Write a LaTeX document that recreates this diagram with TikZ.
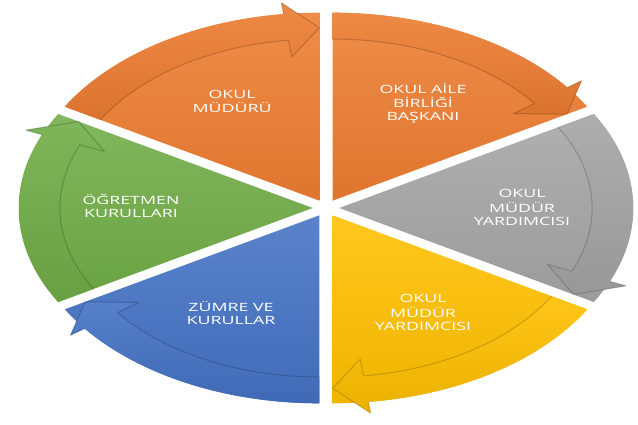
\documentclass[tikz,border=0pt]{standalone}
\usepackage{graphicx}
\usepackage{fontspec}
\setmainfont{Open Sans}
\definecolor{cOrange}{HTML}{ED7D31}
\definecolor{cGray}{HTML}{A5A5A5}
\definecolor{cYellow}{HTML}{FFC000}
\definecolor{cBlue}{HTML}{4472C4}
\definecolor{cGreen}{HTML}{70AD47}
\newcommand\sqz[1]{\scalebox{1}[0.64]{\begin{tabular}{@{}c@{}}#1\end{tabular}}}
% #1 head-end angle, #2 start angle, #3 colour
\newcommand\seg[3]{%
  \begin{scope}[shift={({(#1+#2)/2}:0.045)}]
    \shade[top color=#3!88!white, bottom color=#3!94!black]
      (0,0) -- (#2:1) -- plot[domain=#2:#1, samples=40] (\x:1) -- cycle;
    \shade[top color=#3!90!white, bottom color=#3!92!black]
      (#2:0.86) -- (#2:1) -- plot[domain=#2:#1+7, samples=40] (\x:1)
      -- ({#1+7}:1.06) -- (#1:0.92) -- ({#1+7}:0.77) -- ({#1+7}:0.86)
      -- plot[domain=#1+7:#2, samples=40] (\x:0.86) -- cycle;
    \draw[edge, #3!55!black] (#2:0.86) -- plot[domain=#2:#1+7, samples=40] (\x:0.86)
      -- ({#1+7}:0.77) -- (#1:0.92);
    \draw[edge, #3!55!black] ({#1+7}:1) -- ({#1+7}:1.06) -- (#1:0.92);
  \end{scope}}
\tikzset{
  lbl/.style={text=white, inner sep=0pt, font=\fontsize{17.8}{21}\selectfont},
  edge/.style={line width=1pt, draw opacity=0.4, line join=round}
}
\begin{document}
\begin{tikzpicture}
  \useasboundingbox (0pt,0pt) rectangle (638pt,424pt);
  \begin{scope}[shift={(326pt,216pt)}, x=294pt, y=188pt]
    \seg{90}{150}{cOrange}
    \seg{30}{90}{cOrange}
    \seg{-30}{30}{cGray}
    \seg{-90}{-30}{cYellow}
    \seg{-150}{-90}{cBlue}
    \seg{150}{210}{cGreen}
  \end{scope}
  \node[lbl] (n1) at (232pt,321pt) {\sqz{OKUL\\MÜDÜRÜ}};
  \node[lbl] (n2) at (423pt,320pt) {\sqz{OKUL AİLE\\BİRLİĞİ\\BAŞKANI}};
  \node[lbl] (n3) at (522pt,215pt) {\sqz{OKUL\\MÜDÜR\\YARDIMCISI}};
  \node[lbl] (n4) at (423pt,110pt) {\sqz{OKUL\\MÜDÜR\\YARDIMCISI}};
  \node[lbl] (n5) at (231pt,109pt) {\sqz{ZÜMRE VE\\KURULLAR}};
  \node[lbl] (n6) at (131pt,216pt) {\sqz{ÖĞRETMEN\\KURULLARI}};
\end{tikzpicture}
\end{document}
